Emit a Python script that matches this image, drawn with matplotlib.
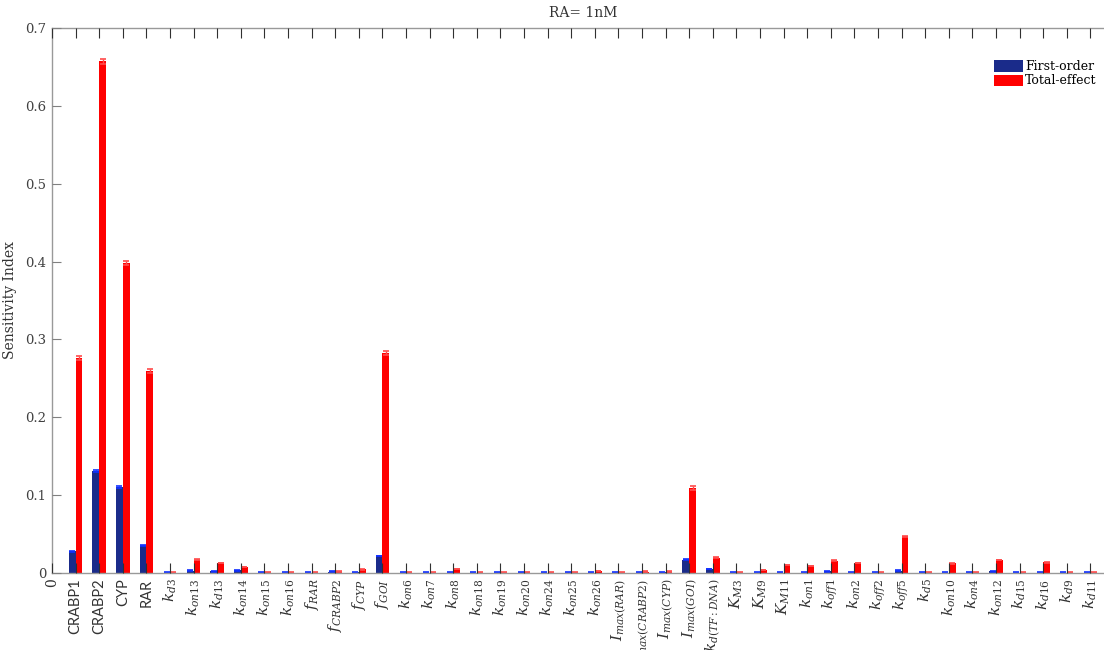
import numpy as np
import matplotlib
matplotlib.use('Agg')
import matplotlib.pyplot as plt
from matplotlib.patches import Patch

plt.rcParams['font.family'] = ['DejaVu Serif']
plt.rcParams['mathtext.fontset'] = 'dejavuserif'

# parameter names (plain ones first, the rest written as math)
params = ['CRABP1', 'CRABP2', 'CYP', 'RAR',
          r'$\mathit{k}_{\mathit{d3}}$', r'$\mathit{k}_{\mathit{on13}}$', r'$\mathit{k}_{\mathit{d13}}$',
          r'$\mathit{k}_{\mathit{on14}}$', r'$\mathit{k}_{\mathit{on15}}$', r'$\mathit{k}_{\mathit{on16}}$',
          r'$\mathit{f}_{\mathit{RAR}}$', r'$\mathit{f}_{\mathit{CRABP2}}$', r'$\mathit{f}_{\mathit{CYP}}$',
          r'$\mathit{f}_{\mathit{GOI}}$', r'$\mathit{k}_{\mathit{on6}}$', r'$\mathit{k}_{\mathit{on7}}$',
          r'$\mathit{k}_{\mathit{on8}}$', r'$\mathit{k}_{\mathit{on18}}$', r'$\mathit{k}_{\mathit{on19}}$',
          r'$\mathit{k}_{\mathit{on20}}$', r'$\mathit{k}_{\mathit{on24}}$', r'$\mathit{k}_{\mathit{on25}}$',
          r'$\mathit{k}_{\mathit{on26}}$', r'$\mathit{I}_{\mathit{max(RAR)}}$',
          r'$\mathit{I}_{\mathit{max(CRABP2)}}$', r'$\mathit{I}_{\mathit{max(CYP)}}$',
          r'$\mathit{I}_{\mathit{max(GOI)}}$', r'$\mathit{k}_{\mathit{d(TF:DNA)}}$',
          r'$\mathit{K}_{\mathit{M3}}$', r'$\mathit{K}_{\mathit{M9}}$', r'$\mathit{K}_{\mathit{M11}}$',
          r'$\mathit{k}_{\mathit{on1}}$', r'$\mathit{k}_{\mathit{off1}}$', r'$\mathit{k}_{\mathit{on2}}$',
          r'$\mathit{k}_{\mathit{off2}}$', r'$\mathit{k}_{\mathit{off5}}$', r'$\mathit{k}_{\mathit{d5}}$',
          r'$\mathit{k}_{\mathit{on10}}$', r'$\mathit{k}_{\mathit{on4}}$', r'$\mathit{k}_{\mathit{on12}}$',
          r'$\mathit{k}_{\mathit{d15}}$', r'$\mathit{k}_{\mathit{d16}}$', r'$\mathit{k}_{\mathit{d9}}$',
          r'$\mathit{k}_{\mathit{d11}}$']

first_order = [0.028, 0.131, 0.110, 0.035, 0.0005, 0.003, 0.002, 0.0035, 0.0005, 0.0005,
               0.0005, 0.0015, 0.001, 0.022, 0.0005, 0.0005, 0.0005, 0.0005, 0.0005, 0.0005,
               0.0005, 0.0005, 0.0005, 0.0005, 0.0005, 0.001, 0.017, 0.005, 0.0005, 0.0005,
               0.0005, 0.0005, 0.002, 0.0005, 0.0005, 0.003, 0.0005, 0.0005, 0.0005, 0.002,
               0.0005, 0.0005, 0.0005, 0.0005]
total_effect = [0.276, 0.657, 0.398, 0.259, 0.0005, 0.017, 0.0128, 0.0078, 0.0005, 0.0005,
                0.0005, 0.0015, 0.0046, 0.283, 0.0005, 0.0005, 0.005, 0.0005, 0.0005, 0.0005,
                0.0005, 0.0005, 0.0025, 0.0005, 0.0015, 0.0015, 0.109, 0.0196, 0.0005, 0.0038,
                0.0103, 0.009, 0.016, 0.0128, 0.0005, 0.047, 0.0005, 0.0124, 0.0005, 0.0167,
                0.0005, 0.0137, 0.0005, 0.0005]
first_err = [0.0008, 0.0012, 0.0012, 0.0008] + [0.0004] * 40
total_err = [0.0025, 0.003, 0.0025, 0.0025] + [0.0004] * 9 + [0.0025] + [0.0004] * 12 \
            + [0.0025] + [0.0004] * 17

x = np.arange(1, len(params) + 1)
w = 0.29

fig = plt.figure(figsize=(11.04, 6.5), dpi=100)
ax = fig.add_axes([0.0471, 0.1185, 0.962, 0.8385])

ax.bar(x - w / 2, first_order, w, color='#1a2b8a', zorder=1)
ax.bar(x + w / 2, total_effect, w, color='#ff0000', zorder=1)
ax.errorbar(x - w / 2, first_order, yerr=first_err, fmt='none', ecolor='#1030ff',
            elinewidth=1, capsize=2.5, capthick=1.2, zorder=2)
ax.errorbar(x + w / 2, total_effect, yerr=total_err, fmt='none', ecolor='#ff4a4a',
            elinewidth=1, capsize=2.5, capthick=1.2, zorder=2)

ax.set_xlim(0, 45)
ax.set_ylim(0, 0.7)
ax.set_axisbelow(False)

ax.set_xticks(np.arange(0, len(params) + 1))
ax.set_xticklabels(['0'] + params, rotation=90, fontsize=11, color='#333333')
for lbl in ax.get_xticklabels()[1:5]:
    lbl.set_family('Lato')
    lbl.set_fontsize(10.5)
for lbl in ax.get_xticklabels()[:1]:
    lbl.set_fontsize(10)

ax.set_yticks(np.arange(0, 0.71, 0.1))
ax.set_yticklabels(['0', '0.1', '0.2', '0.3', '0.4', '0.5', '0.6', '0.7'],
                   fontsize=9.5, color='#404040')

ax.tick_params(axis='x', direction='in', top=True, length=7, width=0.8,
               color='#303030', pad=4)
ax.tick_params(axis='y', direction='in', right=True, length=6.5, width=0.8,
               color='#808080', pad=4)
for sp in ax.spines.values():
    sp.set_color('#999999')
    sp.set_linewidth(1)

ax.set_ylabel('Sensitivity Index', fontsize=10, color='#333333', labelpad=6)
ax.set_title('RA= 1nM', fontsize=10, color='#333333', pad=8)

handles = [Patch(facecolor='#1a2b8a', label='First-order'),
           Patch(facecolor='#ff0000', label='Total-effect')]
fig.legend(handles=handles, loc='upper right', bbox_to_anchor=(0.998, 0.915),
           frameon=False, fontsize=9, handlelength=2.3, handleheight=1.0,
           handletextpad=0.2, labelspacing=0.1, borderaxespad=0)

fig.savefig('out.png', dpi=100)
